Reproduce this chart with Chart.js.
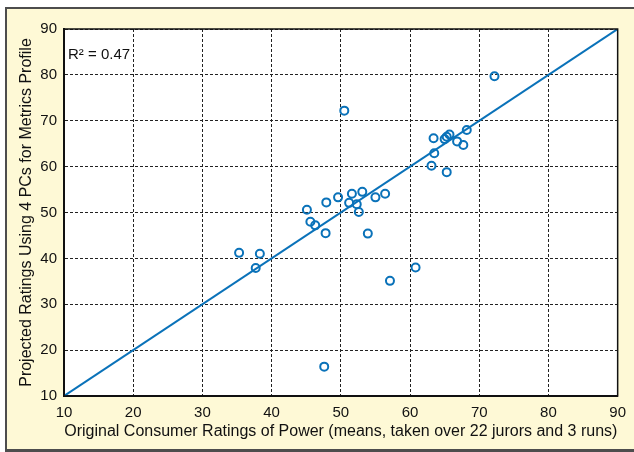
<!DOCTYPE html>
<html>
<head>
<meta charset="utf-8">
<script src="https://cdn.jsdelivr.net/npm/chart.js@4/dist/chart.umd.min.js"></script>
<style>
  html, body { margin: 0; padding: 0; background: #fff; overflow: hidden; }
  #panel {
    position: absolute; left: 5px; top: 7px; width: 640px; height: 445px;
    box-sizing: border-box; background: #fef9d6;
    border: 2px solid #4d4d4d; border-right: none; border-bottom-width: 3px;
  }
  #wrap { position: absolute; left: 0; top: 0; width: 634px; height: 452px; }
</style>
</head>
<body>
<div id="panel"></div>
<div id="wrap"><canvas id="chart-scatter"></canvas></div>
<script>
// data
const consumerRatings = [35.3, 38.3, 37.7, 45.1, 45.6, 46.3, 47.8, 47.9, 49.6, 50.5,
    51.6, 51.2, 52.3, 52.6, 53.1, 53.9, 55.0, 56.4, 57.1, 60.8,
    63.1, 63.5, 63.4, 65.0, 65.3, 65.7, 65.3, 66.8, 67.7, 68.2,
    72.2, 47.6];
const projectedRatings = [41.2, 41.0, 37.9, 50.6, 48.0, 47.2, 45.5, 52.2, 53.3, 72.2,
    54.1, 52.1, 51.8, 50.1, 54.5, 45.4, 53.3, 54.1, 35.1, 38.0,
    60.2, 62.9, 66.2, 66.0, 66.5, 67.0, 58.8, 65.5, 64.7, 68.0,
    79.7, 16.4];
const lineX = [10, 90];
const lineY = [10, 90];
const axisTicks = [10, 20, 30, 40, 50, 60, 70, 80, 90];
const rSquaredLabel = 'R\u00b2 = 0.47';

const BLUE = '#0a72b9';
const FONT = "'Liberation Sans', Arial, Helvetica, sans-serif";

const points = consumerRatings.map((x, i) => ({x: x, y: projectedRatings[i]}));
const diag = lineX.map((x, i) => ({x: x, y: lineY[i]}));

// white plot area, box frame and R² note
const plotFrame = {
    id: 'plotFrame',
    beforeDraw(chart) {
        const {ctx, chartArea: a} = chart;
        ctx.save();
        ctx.fillStyle = '#fff';
        ctx.fillRect(a.left, a.top, a.right - a.left, a.bottom - a.top);
        ctx.restore();
    },
    afterDraw(chart) {
        const {ctx, chartArea: a} = chart;
        ctx.save();
        ctx.strokeStyle = '#111';
        ctx.lineWidth = 1.5;
        ctx.strokeRect(a.left, a.top, a.right - a.left, a.bottom - a.top);
        ctx.font = '15px ' + FONT;
        ctx.fillStyle = '#111';
        ctx.textBaseline = 'alphabetic';
        ctx.fillText(rSquaredLabel, a.left + 4, a.top + 30);
        ctx.restore();
    }
};

const config = {
    type: 'scatter',
    data: {
        datasets: [
            {
                type: 'line',
                data: diag,
                borderColor: BLUE,
                borderWidth: 2,
                pointRadius: 0,
                fill: false,
                order: 2
            },
            {
                data: points,
                borderColor: BLUE,
                backgroundColor: 'rgba(0,0,0,0)',
                borderWidth: 2,
                pointRadius: 4,
                order: 1
            }
        ]
    },
    options: {
        responsive: true,
        maintainAspectRatio: false,
        animation: false,
        layout: {padding: {top: 29, right: 15, left: 0, bottom: 0}},
        scales: {
            x: {
                type: 'linear', min: 10, max: 90,
                afterBuildTicks: s => { s.ticks = axisTicks.map(v => ({value: v})); },
                afterFit: s => { s.height = 56; },
                grid: {color: '#222', lineWidth: 1, drawTicks: false},
                border: {display: true, color: '#111', width: 2, dash: [3, 2]},
                ticks: {color: '#111', padding: 8, font: {family: FONT, size: 15}},
                title: {
                    display: true,
                    text: 'Original Consumer Ratings of Power (means, taken over 22 jurors and 3 runs)',
                    color: '#111', font: {family: FONT, size: 16}, padding: {top: 0, bottom: 11}
                }
            },
            y: {
                type: 'linear', min: 10, max: 90,
                afterBuildTicks: s => { s.ticks = axisTicks.map(v => ({value: v})); },
                afterFit: s => { s.width = 64; },
                grid: {color: '#222', lineWidth: 1, drawTicks: false},
                border: {display: true, color: '#111', width: 2, dash: [3, 2]},
                ticks: {color: '#111', padding: 7, font: {family: FONT, size: 15}},
                title: {
                    display: true,
                    text: 'Projected Ratings Using 4 PCs for Metrics Profile',
                    color: '#111', font: {family: FONT, size: 16}, padding: {top: 17, bottom: 0}
                }
            }
        },
        plugins: {
            legend: {display: false},
            title: {display: false},
            tooltip: {enabled: false}
        }
    },
    plugins: [plotFrame]
};

var scatter = new Chart(document.getElementById('chart-scatter'), config);
</script>
</body>
</html>
